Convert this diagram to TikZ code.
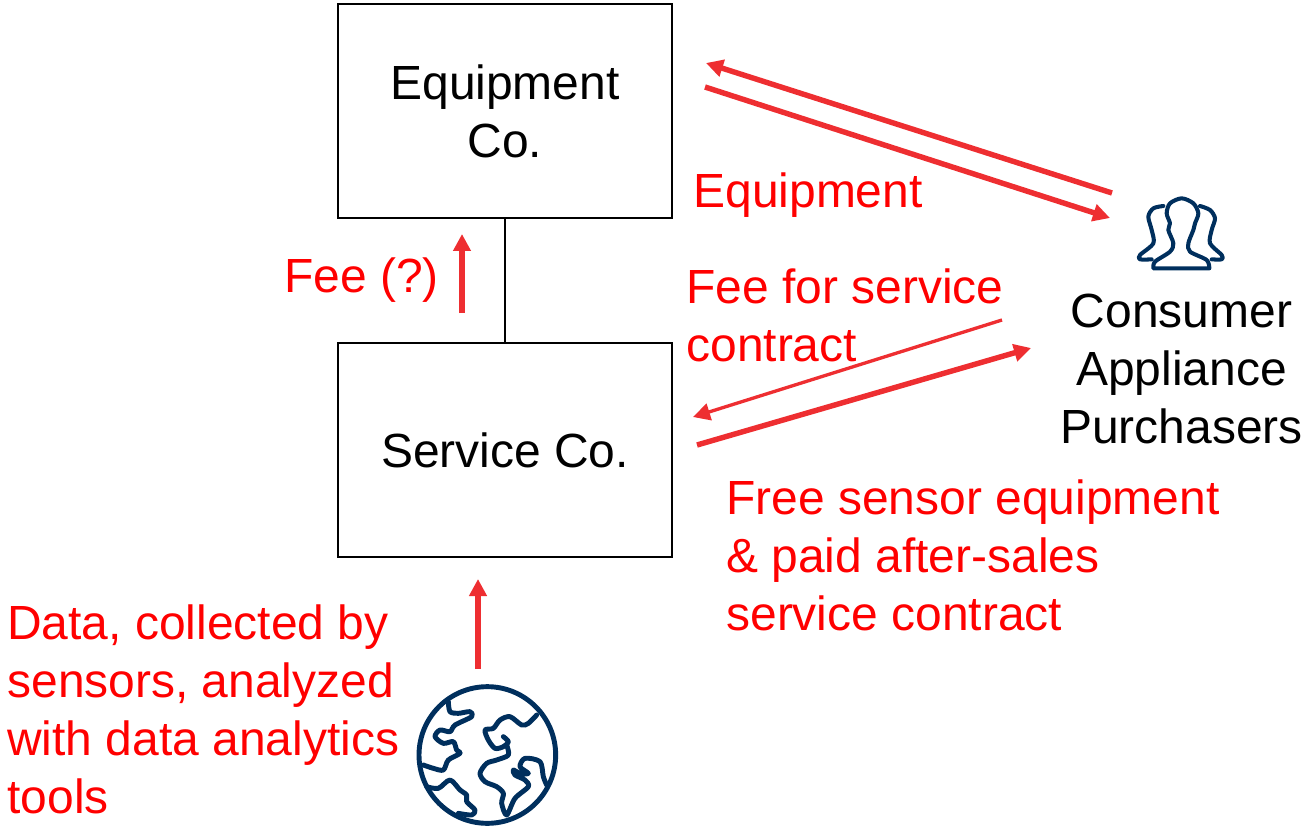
\documentclass[tikz,border=0pt]{standalone}
\usepackage{fontspec}
\setmainfont{Liberation Sans}
\usetikzlibrary{arrows.meta,positioning}
\definecolor{arrowred}{HTML}{EE2E31}
\definecolor{iconblue}{HTML}{002F5D}
\begin{document}
\begin{tikzpicture}[x=0.02cm, y=-0.02cm, >={Triangle[length=3.4mm,width=3.4mm]},
	box/.style={shape=rectangle,draw,minimum width=6.68cm,minimum height=4.28cm,inner sep=0,line width=0.8pt,align=center,font=\fontsize{27.3}{33}\selectfont},
	label/.style={text=red,inner sep=0,anchor=west,align=left,font=\fontsize{27.3}{33}\selectfont},
	flow/.style={->,draw=arrowred,line width=3.1pt},
	thinflow/.style={->,draw=arrowred,line width=1.9pt},
	icon/.style={draw=iconblue,line width=2.8pt,line join=round,line cap=round},
	personicon/.style={draw=iconblue,line width=2.3pt,line join=round,line cap=round}]
	\useasboundingbox (0,0) rectangle (1301,828);
	\node[box] (equipment) at (505,111) {Equipment\\Co.};
	\node[box] (service) at (505,450) {Service Co.};
	\draw[line width=0.8pt] (equipment) to (service);
	\node[label] (feeq) at (284,280) {Fee (?)};
	\node[label] (equip) at (693,195) {Equipment};
	\node[label] (feeservice) at (686,315) {Fee for service\\contract};
	\node[label] (free) at (726,555) {Free sensor equipment\\\& paid after-sales\\service contract};
	\node[label] (data) at (7,709) {Data, collected by\\sensors, analyzed\\with data analytics\\tools};
	\node[inner sep=0,align=center,font=\fontsize{27.3}{33}\selectfont] (consumer) at (1181.5,369) {Consumer\\Appliance\\Purchasers};
	\coordinate (a1) at (1112,193);
	\coordinate (a2) at (706,63);
	\coordinate (b1) at (705,87);
	\coordinate (b2) at (1110,218);
	\coordinate (c1) at (1002,320);
	\coordinate (c2) at (693,417);
	\coordinate (d1) at (697,445);
	\coordinate (d2) at (1031,348);
	\coordinate (e1) at (462,313);
	\coordinate (e2) at (462,234);
	\coordinate (f1) at (478,669);
	\coordinate (f2) at (478,579);
	\draw[flow] (a1) to (a2);
	\draw[flow] (b1) to (b2);
	\draw[thinflow] (c1) to (c2);
	\draw[flow] (d1) to (d2);
	\draw[flow] (e1) to (e2);
	\draw[flow] (f1) to (f2);
	\begin{scope}[shift={(400,670)},scale=1/3]
		\draw[icon] (262,255) circle (205);
		\draw[icon] plot[smooth] coordinates {(145,95) (150,125) (175,130) (210,125) (215,140) (165,165) (150,185) (120,180) (105,200) (130,220) (160,215) (170,240) (180,250) (145,270) (130,300) (100,295) (70,285)};
		\draw[icon] plot[smooth] coordinates {(80,350) (115,355) (150,330) (180,360) (200,375) (200,395) (225,420) (215,435) (175,430)};
		\draw[icon] plot[smooth] coordinates {(410,135) (385,160) (365,165) (330,140) (300,150) (280,175) (255,180) (265,210) (285,235) (310,230) (325,215) (310,200)};
		\draw[icon] plot[smooth] coordinates {(320,225) (325,255) (290,270) (260,280) (240,310) (255,335) (290,350) (310,370) (305,400) (320,435) (345,385) (385,350) (375,330) (345,315) (340,300) (360,310) (385,310) (360,290) (375,265) (420,275) (430,320) (440,345)};
	\end{scope}
	\begin{scope}[shift={(1120,180)},scale=1/3]
		\draw[personicon] plot[smooth] coordinates {(100,265) (105,245) (150,215) (160,190) (145,150) (150,130) (140,100) (150,70) (185,55) (220,70) (235,100) (225,130) (220,150) (205,190) (210,215) (260,240) (268,265)} -- cycle;
		\draw[personicon] plot[smooth] coordinates {(130,78) (100,85) (85,110) (95,150) (100,190) (60,225) (60,238) (95,238)};
		\draw[personicon] plot[smooth] coordinates {(240,78) (270,90) (285,115) (275,150) (270,190) (305,225) (305,238) (275,238)};
	\end{scope}
\end{tikzpicture}
\end{document}
